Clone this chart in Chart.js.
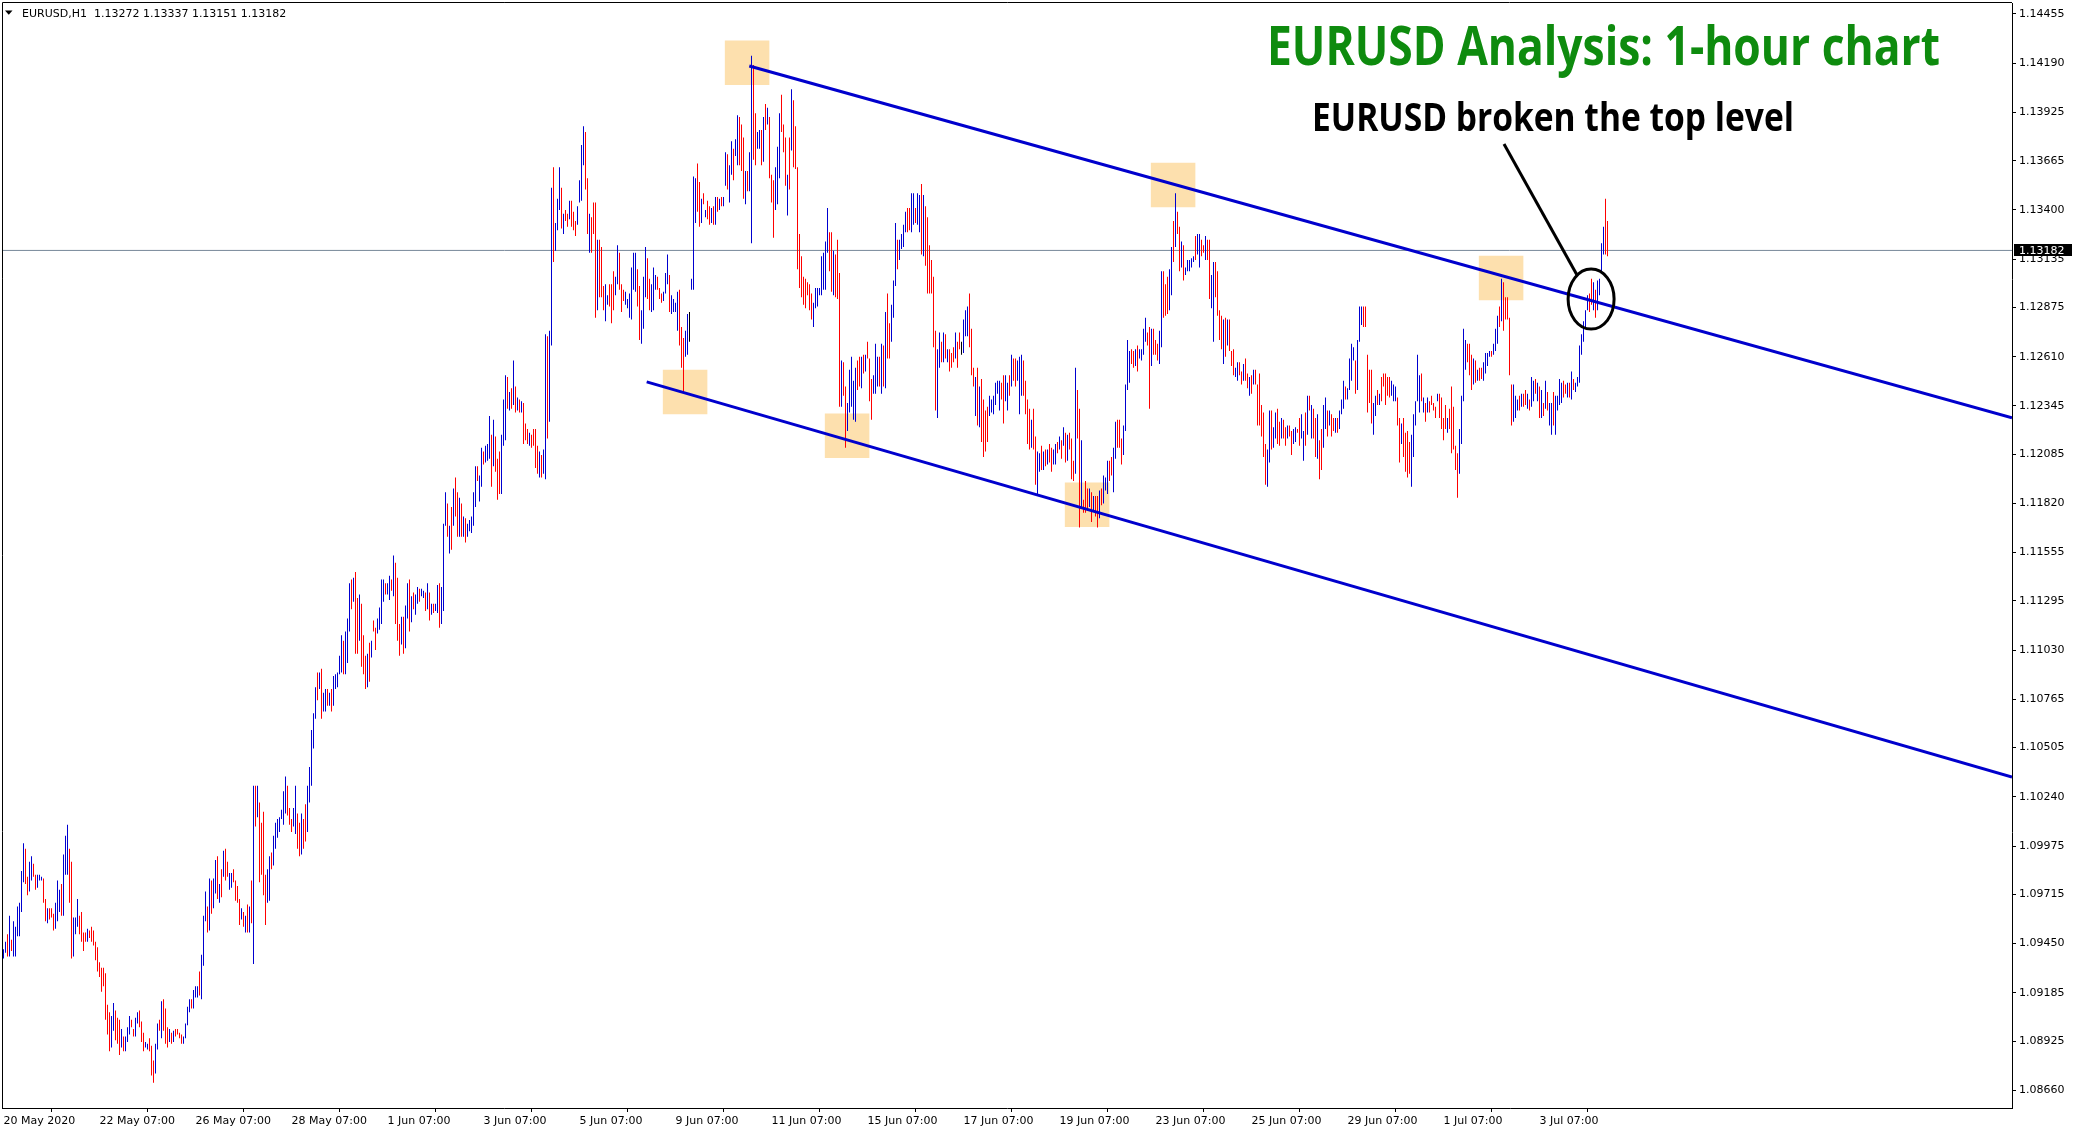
<!DOCTYPE html>
<html>
<head>
<meta charset="utf-8">
<script src="https://cdn.jsdelivr.net/npm/chart.js@4.4.1/dist/chart.umd.min.js"></script>
<style>
  html, body { margin: 0; padding: 0; background: #fff; overflow: hidden; }
</style>
</head>
<body>
<canvas id="myChart" width="2076" height="1133"></canvas>
<script>
// EURUSD H1, one entry per hourly bar, first bar 20 May 2020 07:00
const highs = [
1.0942,1.0946,1.0950,1.0960,1.0947,1.0957,1.0954,1.0965,1.0967,1.0984,
1.0999,1.0996,1.0981,1.0989,1.0992,1.0988,1.0982,1.0982,1.0982,1.0981,
1.0980,1.0969,1.0964,1.0964,1.0964,1.0961,1.0967,1.0979,1.0974,1.0977,
1.0993,1.1003,1.1009,1.0996,1.0989,1.0959,1.0959,1.0969,1.0960,1.0962,
1.0951,1.0951,1.0953,1.0952,1.0954,1.0952,1.0946,1.0943,1.0935,1.0932,
1.0932,1.0929,1.0912,1.0908,1.0906,1.0913,1.0909,1.0905,1.0904,1.0899,
1.0895,1.0895,1.0900,1.0906,1.0904,1.0899,1.0905,1.0908,1.0909,1.0903,
1.0897,1.0892,1.0891,1.0894,1.0890,1.0882,1.0891,1.0902,1.0904,1.0914,
1.0915,1.0910,1.0900,1.0899,1.0897,1.0898,1.0899,1.0899,1.0897,1.0896,
1.0895,1.0902,1.0911,1.0915,1.0915,1.0920,1.0922,1.0922,1.0930,1.0939,
1.0960,1.0973,1.0965,1.0980,1.0979,1.0980,1.0990,1.0992,1.0977,1.0985,
1.0995,
1.0996,1.0989,1.0983,1.0983,1.0985,1.0979,1.0976,1.0969,1.0964,1.0962,
1.0960,1.0966,1.0965,1.0979,1.1030,1.1030,1.1030,1.1021,1.1010,1.1016,
1.0982,1.0985,1.0992,1.0994,1.1003,1.1010,1.1012,1.1013,1.1017,1.1027,
1.1035,1.1030,1.1018,1.1012,1.1018,1.1030,1.1015,1.1010,1.1015,1.1012,
1.1020,1.1030,1.1040,1.1060,1.1069,1.1083,1.1091,1.1091,1.1093,1.1080,
1.1082,1.1082,1.1080,1.1082,1.1089,1.1090,1.1091,1.1100,1.1111,1.1108,
1.1113,1.1120,1.1139,1.1141,1.1142,1.1145,1.1131,1.1133,1.1128,1.1111,
1.1100,1.1101,1.1107,1.1108,1.1119,1.1115,1.1120,1.1126,1.1141,1.1141,
1.1139,1.1139,1.1143,1.1141,1.1154,1.1150,1.1142,1.1117,1.1121,1.1121,
1.1127,1.1139,1.1141,1.1132,1.1134,1.1133,1.1137,1.1136,1.1136,1.1135,
1.1134,1.1139,1.1134,1.1128,1.1128,1.1128,1.1138,1.1139,1.1137,1.1171,
1.1188,1.1182,1.1170,1.1180,1.1190,1.1196,1.1188,1.1185,1.1182,1.1175,
1.1174,1.1171,1.1173,1.1175,1.1188,1.1202,1.1202,1.1197,1.1212,1.1210,
1.1213,1.1214,1.1229,1.1219,1.1227,1.1218,1.1206,1.1210,1.1219,1.1238,
1.1251,1.1250,1.1242,1.1244,1.1259,1.1245,1.1239,1.1238,1.1237,1.1236,
1.1225,1.1222,1.1220,1.1219,1.1222,1.1222,1.1213,1.1210,
1.1208,1.1211,1.1273,1.1272,1.1275,1.1352,1.1363,1.1333,1.1346,1.1363,
1.1352,1.1338,1.1340,1.1338,1.1345,1.1345,1.1339,1.1334,1.1342,1.1356,
1.1375,1.1385,1.1382,1.1357,1.1338,1.1336,1.1344,1.1344,1.1324,1.1324,
1.1320,1.1299,1.1300,1.1294,1.1300,1.1300,1.1307,1.1304,1.1321,1.1317,
1.1300,1.1297,1.1296,1.1292,1.1295,1.1309,1.1317,1.1317,1.1308,1.1299,
1.1286,1.1304,1.1320,1.1314,1.1303,1.1300,1.1309,1.1305,1.1304,1.1298,
1.1295,1.1296,1.1306,1.1316,1.1305,1.1294,1.1292,1.1290,1.1296,1.1297,
1.1277,1.1271,1.1275,1.1284,1.1285,1.1303,1.1358,1.1357,1.1365,1.1355,
1.1346,1.1349,1.1340,1.1345,1.1342,1.1341,1.1342,1.1347,1.1347,1.1346,
1.1347,1.1347,1.1371,1.1370,1.1364,1.1377,1.1373,1.1378,1.1391,1.1390,
1.1386,1.1379,1.1361,1.1361,1.1371,1.1423,1.1418,1.1392,1.1382,1.1383,
1.1383,1.1390,1.1397,1.1395,1.1390,1.1359,1.1356,1.1363,1.1374,1.1392,
1.1402,1.1386,1.1379,1.1359,1.1379,1.1405,1.1399,1.1385,1.1363,1.1327,
1.1315,1.1304,1.1303,1.1301,1.1300,1.1295,1.1290,1.1298,1.1298,1.1298,
1.1315,1.1317,1.1323,1.1341,1.1328,1.1328,1.1318,1.1316,1.1324,1.1306,
1.1259,1.1258,1.1245,1.1236,1.1254,1.1261,1.1248,1.1255,1.1259,1.1261,
1.1261,1.1262,1.1262,1.1269,1.1260,
1.1249,1.1251,1.1268,1.1261,1.1261,1.1268,1.1267,1.1285,1.1295,1.1279,
1.1289,1.1302,1.1333,1.1324,1.1324,1.1327,1.1332,1.1339,1.1341,1.1341,
1.1349,1.1349,1.1341,1.1349,1.1348,1.1354,1.1348,1.1342,1.1336,1.1321,
1.1313,1.1304,1.1275,1.1265,1.1274,1.1269,1.1274,1.1273,1.1265,1.1265,
1.1263,1.1266,1.1274,1.1269,1.1274,1.1269,1.1281,1.1286,1.1288,1.1295,
1.1276,1.1255,1.1250,1.1255,1.1245,1.1249,1.1238,1.1232,1.1234,1.1240,
1.1238,1.1240,1.1247,1.1248,1.1248,1.1247,1.1251,1.1251,1.1247,1.1251,
1.1262,1.1260,1.1260,1.1259,1.1261,1.1262,1.1259,1.1248,1.1238,1.1233,
1.1227,1.1233,1.1218,1.1210,1.1209,1.1213,1.1210,1.1211,1.1211,1.1214,
1.1212,1.1211,1.1214,1.1215,1.1218,1.1216,1.1223,1.1220,1.1219,1.1220,
1.1217,1.1205,1.1255,1.1243,1.1233,1.1216,1.1184,1.1194,1.1190,1.1190,
1.1188,1.1186,1.1186,1.1186,1.1189,1.1190,1.1197,1.1196,1.1205,1.1205,
1.1207,1.1212,1.1226,1.1227,1.1227,1.1217,1.1224,1.1246,1.1270,1.1264,
1.1265,1.1264,1.1265,1.1267,1.1265,1.1265,1.1276,1.1282,1.1274,1.1277,
1.1276,1.1276,1.1270,1.1268,1.1275,1.1307,1.1307,1.1300,1.1304,1.1308,
1.1320,1.1334,1.1349,1.1339,1.1331,1.1323,1.1321,1.1309,1.1313,1.1313,
1.1314,1.1315,1.1326,1.1327,1.1327,1.1324,1.1321,1.1326,1.1324,1.1324,
1.1305,1.1312,1.1312,1.1307,1.1286,1.1283,1.1281,
1.1282,1.1281,1.1281,1.1264,1.1265,1.1255,1.1258,1.1258,1.1253,1.1257,
1.1260,1.1252,1.1250,1.1251,1.1254,1.1254,1.1246,1.1252,1.1235,1.1231,
1.1214,1.1211,1.1232,1.1232,1.1223,1.1231,1.1233,1.1226,1.1228,1.1227,
1.1223,1.1224,1.1224,1.1221,1.1222,1.1223,1.1222,1.1228,1.1230,1.1221,
1.1231,1.1240,1.1240,1.1235,1.1233,1.1228,1.1230,1.1216,1.1222,1.1235,
1.1239,1.1232,1.1232,1.1230,1.1228,1.1228,1.1228,1.1232,1.1238,1.1248,
1.1245,1.1244,1.1260,1.1268,1.1266,1.1259,1.1270,1.1288,1.1288,1.1288,
1.1288,1.1262,1.1254,1.1254,1.1236,1.1240,1.1243,1.1241,1.1250,1.1252,
1.1252,1.1250,1.1250,1.1248,1.1246,1.1245,1.1239,1.1228,1.1225,1.1228,
1.1220,1.1221,1.1215,1.1219,1.1230,1.1237,1.1262,1.1251,1.1252,1.1239,
1.1236,1.1239,1.1237,1.1240,1.1236,1.1234,1.1241,1.1241,1.1239,1.1228,
1.1235,1.1228,1.1233,1.1245,1.1234,1.1213,1.1209,1.1222,1.1240,1.1276,
1.1270,1.1268,1.1268,1.1262,1.1260,1.1259,1.1254,1.1255,1.1255,1.1258,
1.1263,1.1263,1.1264,1.1264,1.1268,1.1276,1.1283,1.1288,1.1303,1.1301,
1.1293,1.1293,1.1282,1.1246,1.1246,1.1240,1.1238,1.1240,1.1241,1.1241,
1.1243,1.1241,1.1238,1.1250,1.1248,1.1249,1.1247,1.1245,1.1243,1.1236,
1.1248,1.1242,1.1236,1.1236,1.1242,1.1240,1.1240,1.1249,1.1247,1.1248,
1.1246,1.1247,1.1247,1.1253,1.1249,1.1247,1.1250,1.1267,1.1273,1.1280,
1.1286,1.1294,1.1295,1.1303,1.1301,1.1297,1.1302,1.1303,1.1322,1.1331,
1.1346,1.1334
];

const lows = [
1.0937,1.0940,1.0938,1.0938,1.0941,1.0938,1.0938,1.0949,1.0949,1.0962,
1.0978,1.0977,1.0971,1.0973,1.0979,1.0981,1.0974,1.0975,1.0979,1.0979,
1.0967,1.0957,1.0956,1.0958,1.0959,1.0952,1.0953,1.0957,1.0962,1.0960,
1.0960,1.0982,1.0982,1.0967,1.0937,1.0938,1.0950,1.0954,1.0950,1.0946,
1.0941,1.0946,1.0946,1.0948,1.0946,1.0944,1.0936,1.0930,1.0927,1.0919,
1.0922,1.0904,1.0896,1.0887,1.0889,1.0898,1.0893,1.0891,1.0885,1.0889,
1.0887,1.0887,1.0892,1.0896,1.0900,1.0895,1.0895,1.0902,1.0900,1.0892,
1.0887,1.0889,1.0888,1.0887,1.0874,1.0870,1.0875,1.0888,1.0898,1.0894,
1.0898,1.0891,1.0889,1.0892,1.0891,1.0892,1.0895,1.0896,1.0894,1.0891,
1.0891,1.0894,1.0901,1.0908,1.0910,1.0910,1.0916,1.0916,1.0917,1.0915,
1.0933,1.0957,1.0951,1.0952,1.0961,1.0964,1.0972,1.0969,1.0967,1.0970,
1.0981,
1.0979,1.0981,1.0974,1.0975,1.0978,1.0968,1.0967,1.0955,1.0958,1.0954,
1.0951,1.0951,1.0951,1.0956,1.0934,1.1008,1.1013,1.0978,1.0982,1.0971,
1.0955,1.0967,1.0968,1.0985,1.0987,1.0996,1.1002,1.1005,1.1012,1.1009,
1.1015,1.1014,1.1009,1.1005,1.1008,1.1004,1.0996,1.0992,1.0993,1.0996,
1.1000,1.1005,1.1021,1.1030,1.1050,1.1066,1.1076,1.1082,1.1066,1.1070,
1.1070,1.1073,1.1073,1.1070,1.1073,1.1082,1.1083,1.1090,1.1091,1.1090,
1.1090,1.1096,1.1113,1.1125,1.1129,1.1101,1.1101,1.1108,1.1094,1.1090,
1.1082,1.1083,1.1086,1.1099,1.1113,1.1103,1.1112,1.1114,1.1117,1.1129,
1.1133,1.1133,1.1130,1.1135,1.1132,1.1117,1.1108,1.1100,1.1106,1.1101,
1.1104,1.1120,1.1113,1.1118,1.1125,1.1122,1.1128,1.1129,1.1132,1.1131,
1.1124,1.1125,1.1119,1.1122,1.1123,1.1124,1.1123,1.1115,1.1117,1.1124,
1.1170,1.1164,1.1155,1.1157,1.1170,1.1175,1.1164,1.1164,1.1164,1.1164,
1.1161,1.1164,1.1167,1.1166,1.1170,1.1180,1.1194,1.1183,1.1191,1.1203,
1.1204,1.1205,1.1206,1.1191,1.1202,1.1199,1.1184,1.1187,1.1187,1.1213,
1.1216,1.1233,1.1232,1.1233,1.1235,1.1231,1.1232,1.1231,1.1231,1.1214,
1.1216,1.1214,1.1213,1.1212,1.1213,1.1201,1.1198,1.1196,
1.1196,1.1198,1.1195,1.1217,1.1226,1.1267,1.1312,1.1318,1.1329,1.1340,
1.1330,1.1327,1.1334,1.1331,1.1335,1.1331,1.1329,1.1326,1.1332,1.1344,
1.1345,1.1364,1.1351,1.1327,1.1317,1.1317,1.1327,1.1282,1.1286,1.1293,
1.1293,1.1286,1.1280,1.1289,1.1288,1.1279,1.1286,1.1294,1.1300,1.1297,
1.1285,1.1291,1.1289,1.1287,1.1282,1.1281,1.1297,1.1296,1.1288,1.1270,
1.1268,1.1276,1.1293,1.1292,1.1286,1.1285,1.1286,1.1297,1.1297,1.1292,
1.1290,1.1291,1.1295,1.1300,1.1285,1.1284,1.1285,1.1285,1.1275,1.1267,
1.1255,1.1242,1.1261,1.1262,1.1269,1.1297,1.1297,1.1333,1.1339,1.1331,
1.1333,1.1343,1.1336,1.1335,1.1332,1.1333,1.1332,1.1332,1.1339,1.1340,
1.1342,1.1342,1.1353,1.1351,1.1344,1.1359,1.1356,1.1369,1.1364,1.1364,
1.1361,1.1346,1.1343,1.1350,1.1350,1.1322,1.1367,1.1364,1.1373,1.1373,
1.1364,1.1366,1.1383,1.1386,1.1357,1.1344,1.1325,1.1340,1.1343,1.1357,
1.1382,1.1371,1.1353,1.1337,1.1351,1.1372,1.1363,1.1362,1.1308,1.1298,
1.1293,1.1289,1.1287,1.1294,1.1286,1.1281,1.1277,1.1287,1.1288,1.1294,
1.1294,1.1297,1.1297,1.1317,1.1307,1.1296,1.1294,1.1293,1.1292,1.1234,
1.1234,1.1240,1.1212,1.1221,1.1231,1.1234,1.1227,1.1226,1.1243,1.1245,
1.1244,1.1252,1.1253,1.1260,1.1237,
1.1227,1.1241,1.1241,1.1245,1.1245,1.1241,1.1245,1.1244,1.1260,1.1260,
1.1269,1.1282,1.1299,1.1308,1.1313,1.1319,1.1320,1.1328,1.1328,1.1329,
1.1328,1.1332,1.1333,1.1332,1.1328,1.1316,1.1315,1.1310,1.1295,1.1295,
1.1295,1.1266,1.1232,1.1228,1.1255,1.1258,1.1258,1.1260,1.1258,1.1253,
1.1255,1.1258,1.1260,1.1255,1.1265,1.1262,1.1263,1.1272,1.1272,1.1266,
1.1251,1.1245,1.1229,1.1224,1.1223,1.1215,1.1207,1.1210,1.1215,1.1229,
1.1231,1.1230,1.1235,1.1241,1.1232,1.1238,1.1225,1.1237,1.1232,1.1240,
1.1245,1.1248,1.1245,1.1248,1.1230,1.1240,1.1240,1.1230,1.1214,1.1211,
1.1212,1.1211,1.1192,1.1187,1.1199,1.1200,1.1200,1.1202,1.1203,1.1204,
1.1199,1.1203,1.1203,1.1209,1.1211,1.1206,1.1213,1.1204,1.1205,1.1211,
1.1195,1.1194,1.1198,1.1217,1.1169,1.1180,1.1177,1.1177,1.1178,1.1180,
1.1172,1.1178,1.1175,1.1169,1.1174,1.1181,1.1182,1.1189,1.1187,1.1194,
1.1197,1.1188,1.1206,1.1212,1.1212,1.1203,1.1208,1.1221,1.1243,1.1247,
1.1257,1.1255,1.1256,1.1253,1.1260,1.1259,1.1262,1.1269,1.1267,1.1233,
1.1256,1.1262,1.1262,1.1259,1.1257,1.1266,1.1282,1.1283,1.1284,1.1286,
1.1294,1.1312,1.1320,1.1327,1.1307,1.1309,1.1302,1.1305,1.1307,1.1307,
1.1309,1.1312,1.1313,1.1316,1.1309,1.1315,1.1317,1.1313,1.1313,1.1292,
1.1287,1.1269,1.1293,1.1283,1.1270,1.1265,1.1257,
1.1261,1.1267,1.1264,1.1256,1.1251,1.1250,1.1248,1.1251,1.1246,1.1248,
1.1248,1.1244,1.1240,1.1241,1.1246,1.1246,1.1224,1.1224,1.1218,1.1207,
1.1192,1.1191,1.1204,1.1211,1.1212,1.1217,1.1214,1.1213,1.1217,1.1217,
1.1213,1.1217,1.1218,1.1208,1.1214,1.1215,1.1220,1.1213,1.1217,1.1205,
1.1213,1.1219,1.1232,1.1217,1.1217,1.1207,1.1206,1.1195,1.1200,1.1212,
1.1222,1.1218,1.1224,1.1218,1.1221,1.1220,1.1220,1.1222,1.1230,1.1233,
1.1238,1.1238,1.1243,1.1248,1.1259,1.1241,1.1243,1.1269,1.1278,1.1277,
1.1277,1.1231,1.1236,1.1225,1.1219,1.1229,1.1235,1.1235,1.1237,1.1245,
1.1235,1.1240,1.1239,1.1240,1.1237,1.1237,1.1224,1.1204,1.1214,1.1207,
1.1199,1.1196,1.1198,1.1191,1.1207,1.1224,1.1237,1.1231,1.1237,1.1231,
1.1226,1.1231,1.1231,1.1235,1.1232,1.1228,1.1237,1.1228,1.1222,1.1216,
1.1222,1.1220,1.1222,1.1209,1.1211,1.1200,1.1185,1.1198,1.1214,1.1237,
1.1254,1.1258,1.1251,1.1243,1.1246,1.1247,1.1248,1.1248,1.1249,1.1248,
1.1252,1.1256,1.1261,1.1261,1.1262,1.1264,1.1268,1.1277,1.1280,1.1275,
1.1281,1.1281,1.1251,1.1224,1.1226,1.1228,1.1232,1.1232,1.1234,1.1234,
1.1235,1.1233,1.1232,1.1234,1.1237,1.1241,1.1237,1.1228,1.1228,1.1229,
1.1233,1.1232,1.1224,1.1219,1.1224,1.1219,1.1232,1.1235,1.1236,1.1239,
1.1241,1.1239,1.1239,1.1238,1.1243,1.1242,1.1245,1.1247,1.1262,1.1269,
1.1277,1.1286,1.1285,1.1289,1.1286,1.1282,1.1286,1.1294,1.1307,1.1316,
1.1316,1.1315
];

// u = bullish (blue), d = bearish (red), n = doji (black)
const dirs = (
  'uudud uuuuu udduu dduuu ddudd duuud uuudd uuudd ddudd ddddd ddddu udddu duuud duudd duudd duudu dddud udddd uuuud uuudu uudud uudud u ' +
  'dduud dddud ududu duddd duudu uuuuu udddu uddud duuuu ududu ududu uuuud uuudu ddudd dudud duuuu duudu dddud uudud uuduu dudud uuduu ududu ddudu duuuu uduud uuudu ddduu ududu dudud ddudd ddu ' +
  'duudu uduuu duddu ddduu uuddu dddud dduud dduud dduuu uuudd uuudd uuudd duuud uuuud dduun uuudd ududd ududu duudu uduud ddudu udduu dudud dduuu dddud udddd ddddd duuuu uuuud duddd udduu uuudd ududd ' +
  'duuud ududd uuudu uuudd uuduu duddd ddduu dudud ddudd nuuud ddudu ddddu uuuuu dduud udduu udddd udduu dudud duudu dudud ddudd udddu duddu duuud duudd duuuu ddudu uuudd udddu udddu ududd uduuu uuduu ddudd uuddd du ' +
  'duddd uuddu ddudu ddddd duudu uddud duddu udduu dudud duddu ududd uduuu duuuu duuud ddddu ududd ddduu uddud ddduu uuudu duddd duddd duddd dduuu udddu duddu uuudu uudud ddddu uudud duduu dudud uduud uuuud dudud uuuuu uuddu duuuu dd'
).replace(/\s/g, '');

const timeLabels = ['20 May 2020', '22 May 07:00', '26 May 07:00', '28 May 07:00', '1 Jun 07:00',
  '3 Jun 07:00', '5 Jun 07:00', '9 Jun 07:00', '11 Jun 07:00', '15 Jun 07:00', '17 Jun 07:00',
  '19 Jun 07:00', '23 Jun 07:00', '25 Jun 07:00', '29 Jun 07:00', '1 Jul 07:00', '3 Jul 07:00'];
const barsPerLabel = 48;

const priceTicks = [1.14455, 1.14190, 1.13925, 1.13665, 1.13400, 1.13135, 1.12875, 1.12610,
  1.12345, 1.12085, 1.11820, 1.11555, 1.11295, 1.11030, 1.10765, 1.10505, 1.10240, 1.09975,
  1.09715, 1.09450, 1.09185, 1.08925, 1.08660];

const lastBar = ['1.13272', '1.13337', '1.13151', '1.13182'];
const bidPrice = 1.13182;

// channel lines and markings (bar index, price)
const upperLine = [{x: 372.9, y: 1.14175}, {x: 1004.25, y: 1.12281}];
const lowerLine = [{x: 321.6, y: 1.12474}, {x: 1004.25, y: 1.10347}];
const pivots = [
  {x: 371.8, y: 1.14192}, {x: 340.8, y: 1.12420}, {x: 421.8, y: 1.12184},
  {x: 541.8, y: 1.11813}, {x: 584.8, y: 1.13534}, {x: 748.8, y: 1.13034}
];
const breakout = {x: 793.8, y: 1.12920};
const pointer = [{x: 750.25, y: 1.13755}, {x: 786.75, y: 1.13050}];

const candleColor = {u: '#0000d0', d: '#ff0000', n: '#000000'};
const FONT = '"DejaVu Sans", sans-serif';

function fitText(ctx, text, x, baseline, width) {
  const w = ctx.measureText(text).width;
  ctx.save();
  ctx.translate(x, baseline);
  ctx.scale(width / w, 1);
  ctx.fillText(text, 0, 0);
  ctx.restore();
}

function noPadding(s) {
  s.paddingLeft = 0; s.paddingRight = 0; s.paddingTop = 0; s.paddingBottom = 0;
}

const overlay = {
  id: 'overlay',
  afterDraw(chart) {
    const {ctx, chartArea: a, scales: {x, y}} = chart;
    ctx.save();

    // frame top / left
    ctx.strokeStyle = '#000';
    ctx.lineWidth = 1;
    ctx.beginPath();
    ctx.moveTo(a.left + 0.5, a.bottom);
    ctx.lineTo(a.left + 0.5, a.top - 0.5);
    ctx.lineTo(a.right, a.top - 0.5);
    ctx.stroke();

    // circle round the breakout
    ctx.beginPath();
    ctx.ellipse(x.getPixelForValue(breakout.x), y.getPixelForValue(breakout.y), 23, 30, 0, 0, Math.PI * 2);
    ctx.lineWidth = 3;
    ctx.strokeStyle = '#000';
    ctx.stroke();

    // symbol header
    ctx.fillStyle = '#000';
    ctx.beginPath();
    ctx.moveTo(5, 10.5); ctx.lineTo(12.5, 10.5); ctx.lineTo(8.75, 14.8);
    ctx.closePath();
    ctx.fill();
    ctx.font = '11px ' + FONT;
    ctx.textBaseline = 'alphabetic';
    ctx.fillText('EURUSD,H1  ' + lastBar.join(' '), 22, 17);

    // bid label on the price axis
    const py = y.getPixelForValue(bidPrice);
    ctx.fillStyle = '#000';
    ctx.fillRect(a.right + 2, Math.round(py) - 6, 58, 12);
    ctx.fillStyle = '#fff';
    ctx.textBaseline = 'middle';
    ctx.fillText(bidPrice.toFixed(5), a.right + 7, py + 0.5);

    // headings
    ctx.textBaseline = 'alphabetic';
    ctx.fillStyle = '#0e8b0e';
    ctx.font = 'bold 54px "Open Sans", sans-serif';
    fitText(ctx, 'EURUSD Analysis: 1-hour chart', 1267, 65, 673);
    ctx.fillStyle = '#000';
    ctx.font = 'bold 39px "Open Sans", sans-serif';
    fitText(ctx, 'EURUSD broken the top level', 1312, 131, 482);

    ctx.restore();
  }
};

const ctx = document.getElementById('myChart').getContext('2d');
new Chart(ctx, {
  type: 'bar',
  data: {
    datasets: [
      {
        type: 'line',
        data: pointer,
        borderColor: '#000',
        borderWidth: 3,
        pointRadius: 0,
        order: 0
      },
      {
        type: 'line',
        data: upperLine,
        borderColor: '#0000cd',
        borderWidth: 3,
        pointRadius: 0,
        order: 1
      },
      {
        type: 'line',
        data: lowerLine,
        borderColor: '#0000cd',
        borderWidth: 3,
        pointRadius: 0,
        order: 1
      },
      {
        type: 'bar',
        data: highs.map((h, i) => ({x: i, y: [lows[i], h]})),
        backgroundColor: c => candleColor[dirs[c.dataIndex]] || '#000',
        barThickness: 1,
        minBarLength: 1,
        borderWidth: 0,
        inflateAmount: 0,
        grouped: false,
        order: 2
      },
      {
        type: 'line',
        data: [{x: -0.75, y: bidPrice}, {x: 1004.25, y: bidPrice}],
        borderColor: '#778899',
        borderWidth: 1,
        pointRadius: 0,
        order: 3
      },
      {
        type: 'line',
        data: pivots,
        showLine: false,
        pointStyle: 'rect',
        pointRadius: 31.5,
        pointBackgroundColor: '#fde0ae',
        pointBorderWidth: 0,
        order: 4
      }
    ]
  },
  options: {
    responsive: false,
    devicePixelRatio: 1,
    animation: false,
    layout: { autoPadding: false, padding: { left: 2, top: 3, right: 0, bottom: 0 } },
    plugins: {
      legend: { display: false },
      tooltip: { enabled: false }
    },
    scales: {
      x: {
        type: 'linear',
        min: -0.75,
        max: 1004.25,
        offset: false,
        afterFit: s => { s.height = 25; noPadding(s); },
        afterBuildTicks: s => { s.ticks = timeLabels.map((t, k) => ({value: k * barsPerLabel})); },
        grid: { display: true, drawOnChartArea: false, drawTicks: true, tickLength: 4, color: '#000' },
        border: { display: true, color: '#000' },
        ticks: {
          autoSkip: false,
          maxRotation: 0,
          align: 'start',
          padding: 3,
          color: '#000',
          font: { family: FONT, size: 11 },
          callback: (v, i) => timeLabels[i]
        }
      },
      y: {
        position: 'right',
        min: 1.085646,
        max: 1.145142,
        afterFit: s => { s.width = 64; noPadding(s); },
        afterBuildTicks: s => { s.ticks = priceTicks.map(v => ({value: v})); },
        grid: { display: true, drawOnChartArea: false, drawTicks: true, tickLength: 4, color: '#000' },
        border: { display: true, color: '#000' },
        ticks: {
          padding: 3,
          color: '#000',
          font: { family: FONT, size: 11 },
          callback: v => v.toFixed(5)
        }
      }
    }
  },
  plugins: [overlay]
});
</script>
</body>
</html>
